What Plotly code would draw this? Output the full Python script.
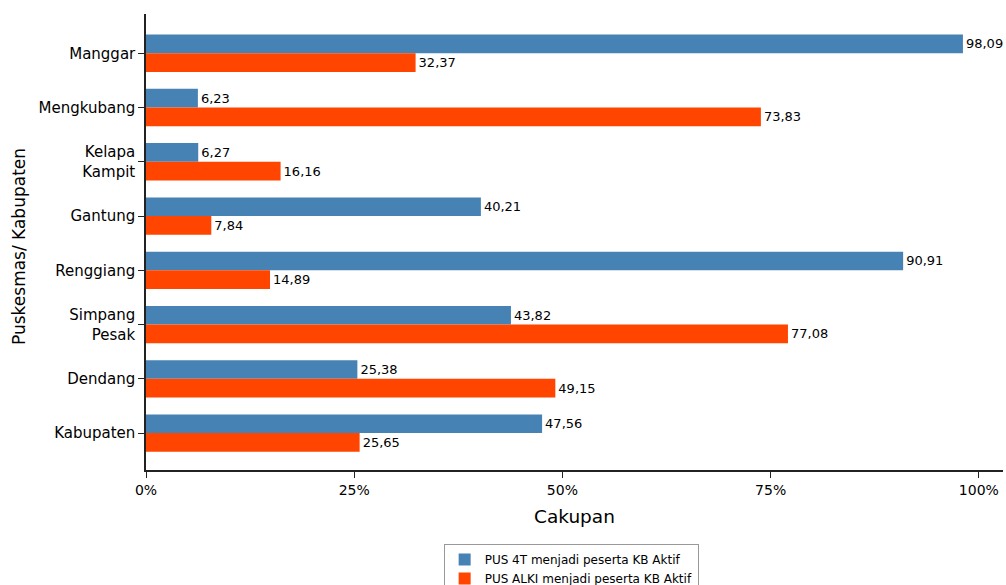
import plotly.graph_objects as go

categories = ["Manggar", "Mengkubang", "Kelapa<br>Kampit", "Gantung", "Renggiang",
              "Simpang<br>Pesak", "Dendang", "Kabupaten"]
pus_4t = [98.09, 6.23, 6.27, 40.21, 90.91, 43.82, 25.38, 47.56]
pus_alki = [32.37, 73.83, 16.16, 7.84, 14.89, 77.08, 49.15, 25.65]
series_names = ["PUS 4T menjadi peserta KB Aktif", "PUS ALKI menjadi peserta KB Aktif"]
x_ticks = [0, 25, 50, 75, 100]
x_ticklabels = ["0%", "25%", "50%", "75%", "100%"]
x_title = "Cakupan"
y_title = "Puskesmas/ Kabupaten"

FONT = "DejaVu Sans"

fig = go.Figure()
for name, vals, color in [(series_names[0], pus_4t, "#4682B4"),
                          (series_names[1], pus_alki, "#FF4500")]:
    fig.add_trace(go.Bar(
        y=categories, x=vals, name=name, orientation="h",
        marker=dict(color=color, line=dict(width=0)),
        text=vals, texttemplate="%{x:.2f}", textposition="outside",
        textfont=dict(family=FONT, size=13, color="#000"),
        constraintext="none", cliponaxis=False,
    ))

fig.update_layout(
    width=1006, height=585,
    margin=dict(l=146, r=3, t=14, b=115, autoexpand=False),
    paper_bgcolor="white", plot_bgcolor="white",
    barmode="group", bargap=0.31, bargroupgap=0,
    separators=", ",
    font=dict(family=FONT, color="#000"),
    showlegend=True,
    legend=dict(
        xref="container", yref="container",
        x=0.441, y=1 - 544 / 585, xanchor="left", yanchor="top",
        orientation="v", traceorder="normal",
        bgcolor="white", bordercolor="#999", borderwidth=1,
        font=dict(family=FONT, size=12, color="#000"),
        tracegroupgap=0,
    ),
    xaxis=dict(
        range=[0, 102.9], tickmode="array", tickvals=x_ticks, ticktext=x_ticklabels,
        showgrid=False, zeroline=False, automargin=False,
        showline=True, linecolor="#222", linewidth=1.5,
        ticks="outside", ticklen=6, tickcolor="#222",
        tickfont=dict(family=FONT, size=14, color="#000"),
    ),
    yaxis=dict(
        categoryorder="array", categoryarray=categories,
        range=[7.68, -0.725], automargin=False,
        showgrid=False, zeroline=False,
        showline=True, linecolor="#222", linewidth=1.5,
        ticks="outside", ticklen=6, tickcolor="#222",
        tickfont=dict(family=FONT, size=15, color="#000"),
    ),
    annotations=[
        dict(text=x_title, xref="paper", yref="paper", x=0.5, y=-(516 - 470) / 456,
             xanchor="center", yanchor="middle", showarrow=False,
             font=dict(family=FONT, size=18.5, color="#000")),
        dict(text=y_title, xref="paper", yref="paper", x=-(146 - 19) / 857, y=1 - (247 - 14) / 456,
             xanchor="center", yanchor="middle", showarrow=False, textangle=-90,
             font=dict(family=FONT, size=17, color="#000")),
    ],
)

fig.write_html("out.html", config={"displayModeBar": False},
               post_script="document.body.style.margin='0';document.body.style.overflow='hidden';")
